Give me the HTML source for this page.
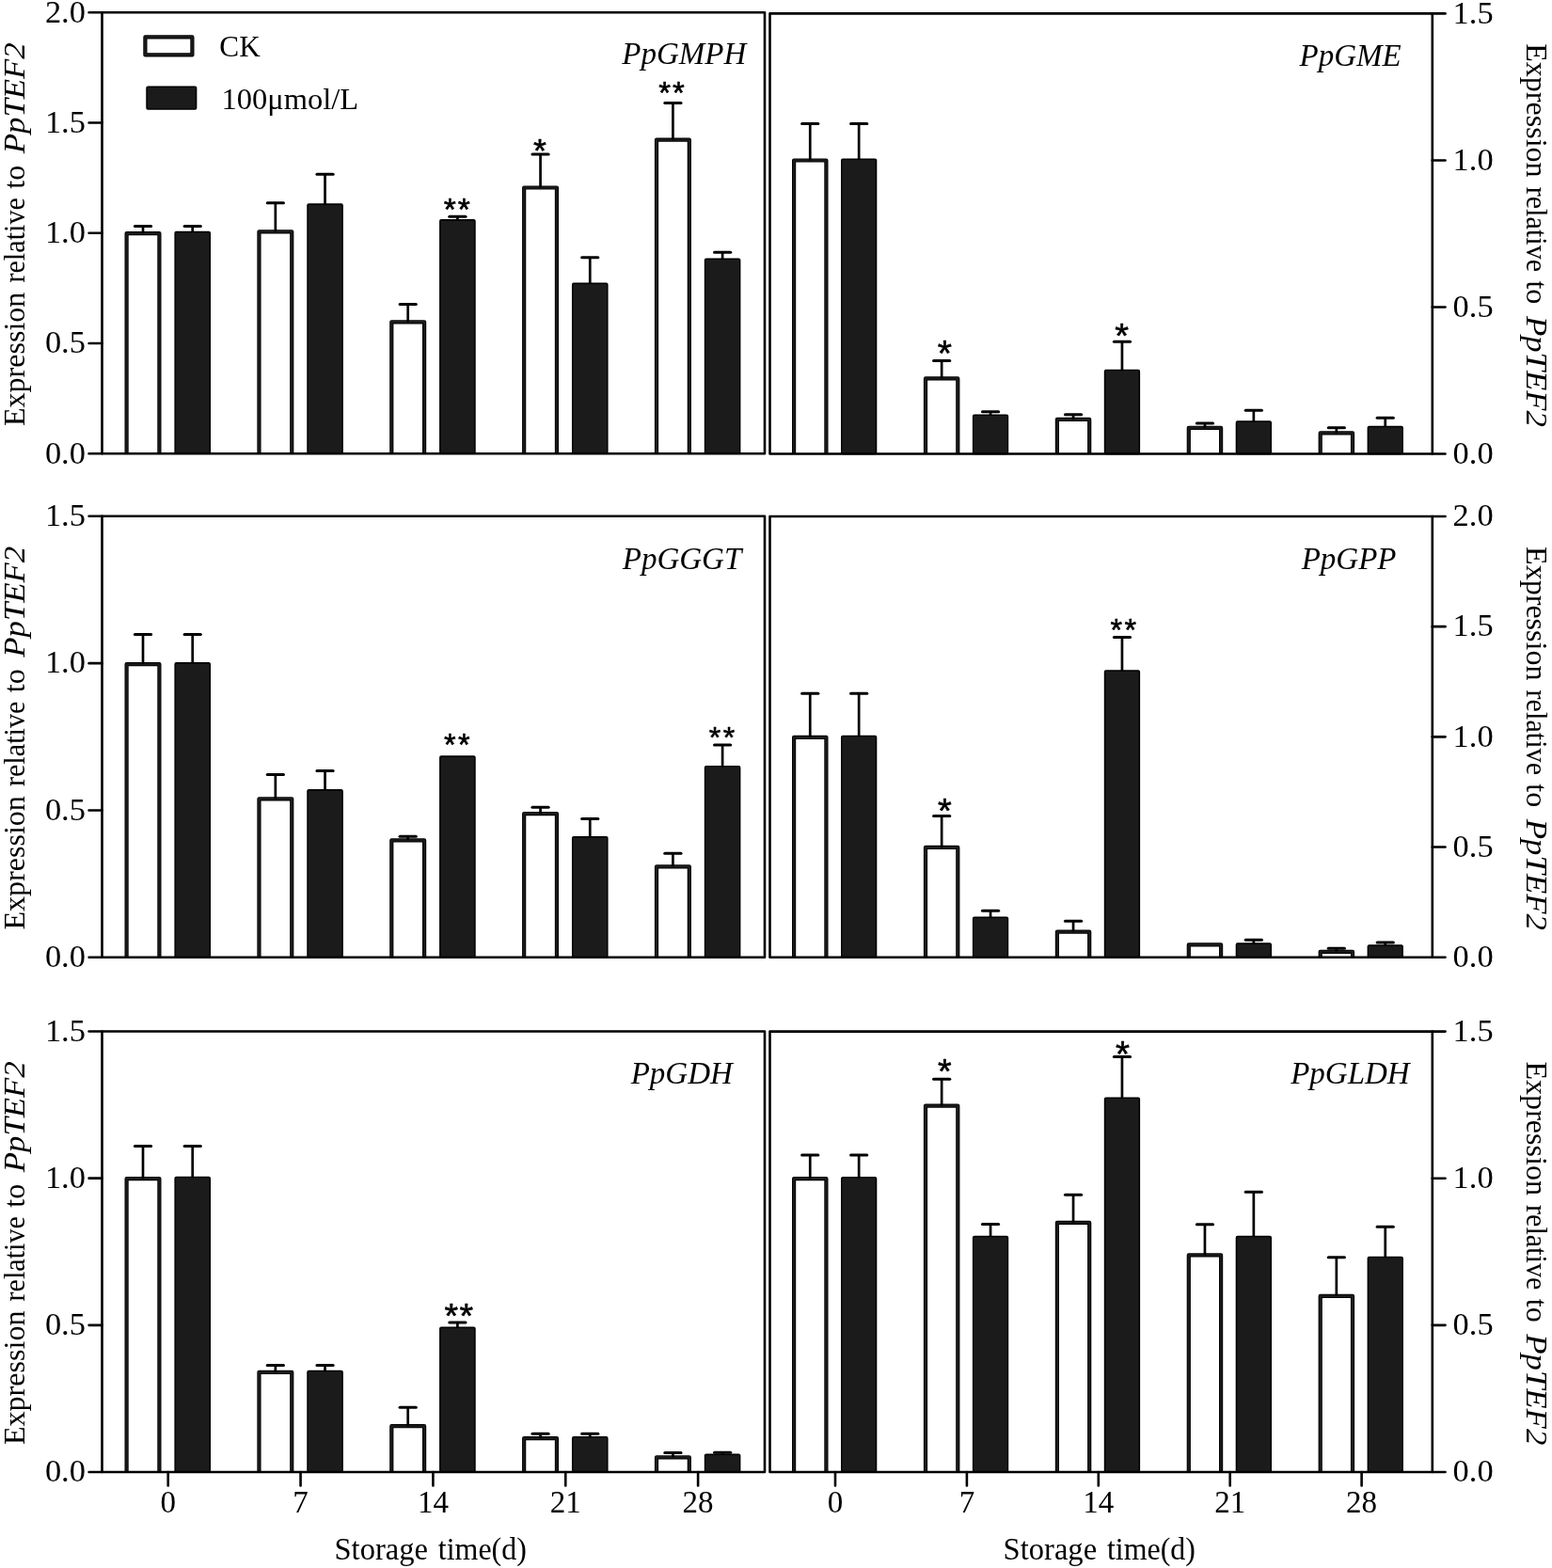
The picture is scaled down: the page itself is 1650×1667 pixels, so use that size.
<!DOCTYPE html>
<html><head><meta charset="utf-8"><title>Expression relative to PpTEF2</title>
<style>html,body{margin:0;padding:0;background:#fff;} svg{display:block;}</style></head>
<body><svg width="1650" height="1667" viewBox="0 0 1650 1667">
<rect width="1650" height="1667" fill="#fff"/>
<path d="M134.6 482.3 V248.1 H169.4 V482.3" fill="#fff" stroke="#000" stroke-width="4.2" stroke-linejoin="round"/>
<path d="M134.6 482.3 V248.1 H169.4 V482.3" fill="none" stroke="#1b1b1b" stroke-width="2.4000000000000004" stroke-linejoin="round"/>
<line x1="152" y1="248" x2="152" y2="240.5" stroke="#000" stroke-width="2.7"/>
<line x1="143.4" y1="240.5" x2="160.6" y2="240.5" stroke="#000" stroke-width="3.0" stroke-linecap="round"/>
<rect x="186.15" y="246.55" width="37.1" height="235.75" rx="1.2" fill="#1b1b1b" stroke="#000" stroke-width="1.5"/>
<line x1="204.7" y1="247" x2="204.7" y2="240.5" stroke="#000" stroke-width="2.7"/>
<line x1="196.1" y1="240.5" x2="213.3" y2="240.5" stroke="#000" stroke-width="3.0" stroke-linecap="round"/>
<path d="M275.45 482.3 V246.3 H310.25 V482.3" fill="#fff" stroke="#000" stroke-width="4.2" stroke-linejoin="round"/>
<path d="M275.45 482.3 V246.3 H310.25 V482.3" fill="none" stroke="#1b1b1b" stroke-width="2.4000000000000004" stroke-linejoin="round"/>
<line x1="292.85" y1="246.2" x2="292.85" y2="215.7" stroke="#000" stroke-width="2.7"/>
<line x1="284.25" y1="215.7" x2="301.45" y2="215.7" stroke="#000" stroke-width="3.0" stroke-linecap="round"/>
<rect x="327" y="216.95" width="37.1" height="265.35" rx="1.2" fill="#1b1b1b" stroke="#000" stroke-width="1.5"/>
<line x1="345.55" y1="217.4" x2="345.55" y2="185.3" stroke="#000" stroke-width="2.7"/>
<line x1="336.95" y1="185.3" x2="354.15" y2="185.3" stroke="#000" stroke-width="3.0" stroke-linecap="round"/>
<path d="M416.3 482.3 V342.3 H451.1 V482.3" fill="#fff" stroke="#000" stroke-width="4.2" stroke-linejoin="round"/>
<path d="M416.3 482.3 V342.3 H451.1 V482.3" fill="none" stroke="#1b1b1b" stroke-width="2.4000000000000004" stroke-linejoin="round"/>
<line x1="433.7" y1="342.2" x2="433.7" y2="323.4" stroke="#000" stroke-width="2.7"/>
<line x1="425.1" y1="323.4" x2="442.3" y2="323.4" stroke="#000" stroke-width="3.0" stroke-linecap="round"/>
<rect x="467.85" y="233.85" width="37.1" height="248.45" rx="1.2" fill="#1b1b1b" stroke="#000" stroke-width="1.5"/>
<line x1="486.4" y1="234.3" x2="486.4" y2="230.2" stroke="#000" stroke-width="2.7"/>
<line x1="477.8" y1="230.2" x2="495" y2="230.2" stroke="#000" stroke-width="3.0" stroke-linecap="round"/>
<path d="M557.15 482.3 V199.5 H591.95 V482.3" fill="#fff" stroke="#000" stroke-width="4.2" stroke-linejoin="round"/>
<path d="M557.15 482.3 V199.5 H591.95 V482.3" fill="none" stroke="#1b1b1b" stroke-width="2.4000000000000004" stroke-linejoin="round"/>
<line x1="574.55" y1="199.4" x2="574.55" y2="163.9" stroke="#000" stroke-width="2.7"/>
<line x1="565.95" y1="163.9" x2="583.15" y2="163.9" stroke="#000" stroke-width="3.0" stroke-linecap="round"/>
<rect x="608.7" y="301.25" width="37.1" height="181.05" rx="1.2" fill="#1b1b1b" stroke="#000" stroke-width="1.5"/>
<line x1="627.25" y1="301.7" x2="627.25" y2="273.8" stroke="#000" stroke-width="2.7"/>
<line x1="618.65" y1="273.8" x2="635.85" y2="273.8" stroke="#000" stroke-width="3.0" stroke-linecap="round"/>
<path d="M698 482.3 V148.6 H732.8 V482.3" fill="#fff" stroke="#000" stroke-width="4.2" stroke-linejoin="round"/>
<path d="M698 482.3 V148.6 H732.8 V482.3" fill="none" stroke="#1b1b1b" stroke-width="2.4000000000000004" stroke-linejoin="round"/>
<line x1="715.4" y1="148.5" x2="715.4" y2="109.4" stroke="#000" stroke-width="2.7"/>
<line x1="706.8" y1="109.4" x2="724" y2="109.4" stroke="#000" stroke-width="3.0" stroke-linecap="round"/>
<rect x="749.55" y="275.35" width="37.1" height="206.95" rx="1.2" fill="#1b1b1b" stroke="#000" stroke-width="1.5"/>
<line x1="768.1" y1="275.8" x2="768.1" y2="268.3" stroke="#000" stroke-width="2.7"/>
<line x1="759.5" y1="268.3" x2="776.7" y2="268.3" stroke="#000" stroke-width="3.0" stroke-linecap="round"/>
<text x="478.4" y="234.24" font-family="'Liberation Sans', Arial, sans-serif" font-size="33.63" stroke="#000" stroke-width="0.6" stroke-linejoin="round" text-anchor="middle">*</text>
<text x="493.4" y="234.24" font-family="'Liberation Sans', Arial, sans-serif" font-size="33.63" stroke="#000" stroke-width="0.6" stroke-linejoin="round" text-anchor="middle">*</text>
<text x="574" y="171.62" font-family="'Liberation Sans', Arial, sans-serif" font-size="35.74" stroke="#000" stroke-width="0.6" stroke-linejoin="round" text-anchor="middle">*</text>
<text x="706.58" y="110.41" font-family="'Liberation Sans', Arial, sans-serif" font-size="32.73" stroke="#000" stroke-width="0.6" stroke-linejoin="round" text-anchor="middle">*</text>
<text x="721.42" y="110.41" font-family="'Liberation Sans', Arial, sans-serif" font-size="32.73" stroke="#000" stroke-width="0.6" stroke-linejoin="round" text-anchor="middle">*</text>
<path d="M108.5 13.3 H813 V482.3 H108.5 Z" fill="none" stroke="#000" stroke-width="2.6" stroke-linejoin="round"/>
<line x1="94.6" y1="482.3" x2="108.5" y2="482.3" stroke="#000" stroke-width="2.6" stroke-linecap="round"/>
<text x="90.9" y="492.6" font-family="'Liberation Serif', 'Times New Roman', serif" font-size="34.4" text-anchor="end">0.0</text>
<line x1="94.6" y1="365.05" x2="108.5" y2="365.05" stroke="#000" stroke-width="2.6" stroke-linecap="round"/>
<text x="90.9" y="375.35" font-family="'Liberation Serif', 'Times New Roman', serif" font-size="34.4" text-anchor="end">0.5</text>
<line x1="94.6" y1="247.8" x2="108.5" y2="247.8" stroke="#000" stroke-width="2.6" stroke-linecap="round"/>
<text x="90.9" y="258.1" font-family="'Liberation Serif', 'Times New Roman', serif" font-size="34.4" text-anchor="end">1.0</text>
<line x1="94.6" y1="130.55" x2="108.5" y2="130.55" stroke="#000" stroke-width="2.6" stroke-linecap="round"/>
<text x="90.9" y="140.85" font-family="'Liberation Serif', 'Times New Roman', serif" font-size="34.4" text-anchor="end">1.5</text>
<line x1="94.6" y1="13.3" x2="108.5" y2="13.3" stroke="#000" stroke-width="2.6" stroke-linecap="round"/>
<text x="90.9" y="23.6" font-family="'Liberation Serif', 'Times New Roman', serif" font-size="34.4" text-anchor="end">2.0</text>
<text x="661.3" y="68.4" font-family="'Liberation Serif', 'Times New Roman', serif" font-size="33" font-style="italic">PpGMPH</text>
<text transform="translate(25.8 0) rotate(-90)" font-family="'Liberation Serif', 'Times New Roman', serif" font-size="32.6"><tspan x="-453.1" y="0" textLength="142.5" lengthAdjust="spacingAndGlyphs">Expression</tspan> <tspan x="-300.6" y="0" textLength="90.5" lengthAdjust="spacingAndGlyphs">relative</tspan> <tspan x="-200.8" y="0" textLength="25" lengthAdjust="spacingAndGlyphs">to</tspan> <tspan x="-163.3" y="0" font-style="italic" textLength="118" lengthAdjust="spacingAndGlyphs">PpTEF2</tspan></text>
<path d="M844.1 482.5 V170.5 H878.4 V482.5" fill="#fff" stroke="#000" stroke-width="4.2" stroke-linejoin="round"/>
<path d="M844.1 482.5 V170.5 H878.4 V482.5" fill="none" stroke="#1b1b1b" stroke-width="2.4000000000000004" stroke-linejoin="round"/>
<line x1="861.25" y1="170.4" x2="861.25" y2="131.6" stroke="#000" stroke-width="2.7"/>
<line x1="852.65" y1="131.6" x2="869.85" y2="131.6" stroke="#000" stroke-width="3.0" stroke-linecap="round"/>
<rect x="894.75" y="169.15" width="36.8" height="313.35" rx="1.2" fill="#1b1b1b" stroke="#000" stroke-width="1.5"/>
<line x1="913.15" y1="169.6" x2="913.15" y2="131.6" stroke="#000" stroke-width="2.7"/>
<line x1="904.55" y1="131.6" x2="921.75" y2="131.6" stroke="#000" stroke-width="3.0" stroke-linecap="round"/>
<path d="M984 482.5 V402.4 H1018.3 V482.5" fill="#fff" stroke="#000" stroke-width="4.2" stroke-linejoin="round"/>
<path d="M984 482.5 V402.4 H1018.3 V482.5" fill="none" stroke="#1b1b1b" stroke-width="2.4000000000000004" stroke-linejoin="round"/>
<line x1="1001.15" y1="402.3" x2="1001.15" y2="383.5" stroke="#000" stroke-width="2.7"/>
<line x1="992.55" y1="383.5" x2="1009.75" y2="383.5" stroke="#000" stroke-width="3.0" stroke-linecap="round"/>
<rect x="1034.65" y="441.25" width="36.8" height="41.25" rx="1.2" fill="#1b1b1b" stroke="#000" stroke-width="1.5"/>
<line x1="1053.05" y1="441.7" x2="1053.05" y2="437.8" stroke="#000" stroke-width="2.7"/>
<line x1="1044.45" y1="437.8" x2="1061.65" y2="437.8" stroke="#000" stroke-width="3.0" stroke-linecap="round"/>
<path d="M1123.9 482.5 V445.9 H1158.2 V482.5" fill="#fff" stroke="#000" stroke-width="4.2" stroke-linejoin="round"/>
<path d="M1123.9 482.5 V445.9 H1158.2 V482.5" fill="none" stroke="#1b1b1b" stroke-width="2.4000000000000004" stroke-linejoin="round"/>
<line x1="1141.05" y1="445.8" x2="1141.05" y2="440.8" stroke="#000" stroke-width="2.7"/>
<line x1="1132.45" y1="440.8" x2="1149.65" y2="440.8" stroke="#000" stroke-width="3.0" stroke-linecap="round"/>
<rect x="1174.55" y="393.45" width="36.8" height="89.05" rx="1.2" fill="#1b1b1b" stroke="#000" stroke-width="1.5"/>
<line x1="1192.95" y1="393.9" x2="1192.95" y2="363.2" stroke="#000" stroke-width="2.7"/>
<line x1="1184.35" y1="363.2" x2="1201.55" y2="363.2" stroke="#000" stroke-width="3.0" stroke-linecap="round"/>
<path d="M1263.8 482.5 V454.8 H1298.1 V482.5" fill="#fff" stroke="#000" stroke-width="4.2" stroke-linejoin="round"/>
<path d="M1263.8 482.5 V454.8 H1298.1 V482.5" fill="none" stroke="#1b1b1b" stroke-width="2.4000000000000004" stroke-linejoin="round"/>
<line x1="1280.95" y1="454.7" x2="1280.95" y2="449.9" stroke="#000" stroke-width="2.7"/>
<line x1="1272.35" y1="449.9" x2="1289.55" y2="449.9" stroke="#000" stroke-width="3.0" stroke-linecap="round"/>
<rect x="1314.45" y="447.95" width="36.8" height="34.55" rx="1.2" fill="#1b1b1b" stroke="#000" stroke-width="1.5"/>
<line x1="1332.85" y1="448.4" x2="1332.85" y2="436.3" stroke="#000" stroke-width="2.7"/>
<line x1="1324.25" y1="436.3" x2="1341.45" y2="436.3" stroke="#000" stroke-width="3.0" stroke-linecap="round"/>
<path d="M1403.7 482.5 V460.4 H1438 V482.5" fill="#fff" stroke="#000" stroke-width="4.2" stroke-linejoin="round"/>
<path d="M1403.7 482.5 V460.4 H1438 V482.5" fill="none" stroke="#1b1b1b" stroke-width="2.4000000000000004" stroke-linejoin="round"/>
<line x1="1420.85" y1="460.3" x2="1420.85" y2="454.7" stroke="#000" stroke-width="2.7"/>
<line x1="1412.25" y1="454.7" x2="1429.45" y2="454.7" stroke="#000" stroke-width="3.0" stroke-linecap="round"/>
<rect x="1454.35" y="453.45" width="36.8" height="29.05" rx="1.2" fill="#1b1b1b" stroke="#000" stroke-width="1.5"/>
<line x1="1472.75" y1="453.9" x2="1472.75" y2="444.3" stroke="#000" stroke-width="2.7"/>
<line x1="1464.15" y1="444.3" x2="1481.35" y2="444.3" stroke="#000" stroke-width="3.0" stroke-linecap="round"/>
<text x="1004.3" y="389.13" font-family="'Liberation Sans', Arial, sans-serif" font-size="39.04" stroke="#000" stroke-width="0.6" stroke-linejoin="round" text-anchor="middle">*</text>
<text x="1192.5" y="369.89" font-family="'Liberation Sans', Arial, sans-serif" font-size="37.84" stroke="#000" stroke-width="0.6" stroke-linejoin="round" text-anchor="middle">*</text>
<path d="M818.5 14.4 H1522.8 V482.5 H818.5 Z" fill="none" stroke="#000" stroke-width="2.6" stroke-linejoin="round"/>
<line x1="1522.8" y1="482.5" x2="1536.5" y2="482.5" stroke="#000" stroke-width="2.6" stroke-linecap="round"/>
<text x="1544.6" y="492.8" font-family="'Liberation Serif', 'Times New Roman', serif" font-size="34.4">0.0</text>
<line x1="1522.8" y1="326.47" x2="1536.5" y2="326.47" stroke="#000" stroke-width="2.6" stroke-linecap="round"/>
<text x="1544.6" y="336.77" font-family="'Liberation Serif', 'Times New Roman', serif" font-size="34.4">0.5</text>
<line x1="1522.8" y1="170.43" x2="1536.5" y2="170.43" stroke="#000" stroke-width="2.6" stroke-linecap="round"/>
<text x="1544.6" y="180.73" font-family="'Liberation Serif', 'Times New Roman', serif" font-size="34.4">1.0</text>
<line x1="1522.8" y1="14.4" x2="1536.5" y2="14.4" stroke="#000" stroke-width="2.6" stroke-linecap="round"/>
<text x="1544.6" y="24.7" font-family="'Liberation Serif', 'Times New Roman', serif" font-size="34.4">1.5</text>
<text x="1381.5" y="70" font-family="'Liberation Serif', 'Times New Roman', serif" font-size="33" font-style="italic">PpGME</text>
<text transform="translate(1623.2 0) rotate(90)" font-family="'Liberation Serif', 'Times New Roman', serif" font-size="32.6"><tspan x="46.15" y="0" textLength="142.5" lengthAdjust="spacingAndGlyphs">Expression</tspan> <tspan x="198.65" y="0" textLength="90.5" lengthAdjust="spacingAndGlyphs">relative</tspan> <tspan x="298.45" y="0" textLength="25" lengthAdjust="spacingAndGlyphs">to</tspan> <tspan x="335.95" y="0" font-style="italic" textLength="118" lengthAdjust="spacingAndGlyphs">PpTEF2</tspan></text>
<path d="M134.6 1017.8 V706.1 H169.4 V1017.8" fill="#fff" stroke="#000" stroke-width="4.2" stroke-linejoin="round"/>
<path d="M134.6 1017.8 V706.1 H169.4 V1017.8" fill="none" stroke="#1b1b1b" stroke-width="2.4000000000000004" stroke-linejoin="round"/>
<line x1="152" y1="706" x2="152" y2="674.5" stroke="#000" stroke-width="2.7"/>
<line x1="143.4" y1="674.5" x2="160.6" y2="674.5" stroke="#000" stroke-width="3.0" stroke-linecap="round"/>
<rect x="186.15" y="704.75" width="37.1" height="313.05" rx="1.2" fill="#1b1b1b" stroke="#000" stroke-width="1.5"/>
<line x1="204.7" y1="705.2" x2="204.7" y2="674.5" stroke="#000" stroke-width="2.7"/>
<line x1="196.1" y1="674.5" x2="213.3" y2="674.5" stroke="#000" stroke-width="3.0" stroke-linecap="round"/>
<path d="M275.45 1017.8 V849.3 H310.25 V1017.8" fill="#fff" stroke="#000" stroke-width="4.2" stroke-linejoin="round"/>
<path d="M275.45 1017.8 V849.3 H310.25 V1017.8" fill="none" stroke="#1b1b1b" stroke-width="2.4000000000000004" stroke-linejoin="round"/>
<line x1="292.85" y1="849.2" x2="292.85" y2="823.4" stroke="#000" stroke-width="2.7"/>
<line x1="284.25" y1="823.4" x2="301.45" y2="823.4" stroke="#000" stroke-width="3.0" stroke-linecap="round"/>
<rect x="327" y="839.75" width="37.1" height="178.05" rx="1.2" fill="#1b1b1b" stroke="#000" stroke-width="1.5"/>
<line x1="345.55" y1="840.2" x2="345.55" y2="819.5" stroke="#000" stroke-width="2.7"/>
<line x1="336.95" y1="819.5" x2="354.15" y2="819.5" stroke="#000" stroke-width="3.0" stroke-linecap="round"/>
<path d="M416.3 1017.8 V893.4 H451.1 V1017.8" fill="#fff" stroke="#000" stroke-width="4.2" stroke-linejoin="round"/>
<path d="M416.3 1017.8 V893.4 H451.1 V1017.8" fill="none" stroke="#1b1b1b" stroke-width="2.4000000000000004" stroke-linejoin="round"/>
<line x1="433.7" y1="893.3" x2="433.7" y2="889.3" stroke="#000" stroke-width="2.7"/>
<line x1="425.1" y1="889.3" x2="442.3" y2="889.3" stroke="#000" stroke-width="3.0" stroke-linecap="round"/>
<rect x="467.85" y="804.05" width="37.1" height="213.75" rx="1.2" fill="#1b1b1b" stroke="#000" stroke-width="1.5"/>
<path d="M557.15 1017.8 V865.1 H591.95 V1017.8" fill="#fff" stroke="#000" stroke-width="4.2" stroke-linejoin="round"/>
<path d="M557.15 1017.8 V865.1 H591.95 V1017.8" fill="none" stroke="#1b1b1b" stroke-width="2.4000000000000004" stroke-linejoin="round"/>
<line x1="574.55" y1="865" x2="574.55" y2="858.3" stroke="#000" stroke-width="2.7"/>
<line x1="565.95" y1="858.3" x2="583.15" y2="858.3" stroke="#000" stroke-width="3.0" stroke-linecap="round"/>
<rect x="608.7" y="889.65" width="37.1" height="128.15" rx="1.2" fill="#1b1b1b" stroke="#000" stroke-width="1.5"/>
<line x1="627.25" y1="890.1" x2="627.25" y2="870.5" stroke="#000" stroke-width="2.7"/>
<line x1="618.65" y1="870.5" x2="635.85" y2="870.5" stroke="#000" stroke-width="3.0" stroke-linecap="round"/>
<path d="M698 1017.8 V921.3 H732.8 V1017.8" fill="#fff" stroke="#000" stroke-width="4.2" stroke-linejoin="round"/>
<path d="M698 1017.8 V921.3 H732.8 V1017.8" fill="none" stroke="#1b1b1b" stroke-width="2.4000000000000004" stroke-linejoin="round"/>
<line x1="715.4" y1="921.2" x2="715.4" y2="907.3" stroke="#000" stroke-width="2.7"/>
<line x1="706.8" y1="907.3" x2="724" y2="907.3" stroke="#000" stroke-width="3.0" stroke-linecap="round"/>
<rect x="749.55" y="814.75" width="37.1" height="203.05" rx="1.2" fill="#1b1b1b" stroke="#000" stroke-width="1.5"/>
<line x1="768.1" y1="815.2" x2="768.1" y2="792" stroke="#000" stroke-width="2.7"/>
<line x1="759.5" y1="792" x2="776.7" y2="792" stroke="#000" stroke-width="3.0" stroke-linecap="round"/>
<text x="478.3" y="802.8" font-family="'Liberation Sans', Arial, sans-serif" font-size="32.43" stroke="#000" stroke-width="0.6" stroke-linejoin="round" text-anchor="middle">*</text>
<text x="493.4" y="802.8" font-family="'Liberation Sans', Arial, sans-serif" font-size="32.43" stroke="#000" stroke-width="0.6" stroke-linejoin="round" text-anchor="middle">*</text>
<text x="759.95" y="795.19" font-family="'Liberation Sans', Arial, sans-serif" font-size="32.13" stroke="#000" stroke-width="0.6" stroke-linejoin="round" text-anchor="middle">*</text>
<text x="775.05" y="795.19" font-family="'Liberation Sans', Arial, sans-serif" font-size="32.13" stroke="#000" stroke-width="0.6" stroke-linejoin="round" text-anchor="middle">*</text>
<path d="M108.5 548.8 H813 V1017.8 H108.5 Z" fill="none" stroke="#000" stroke-width="2.6" stroke-linejoin="round"/>
<line x1="94.6" y1="1017.8" x2="108.5" y2="1017.8" stroke="#000" stroke-width="2.6" stroke-linecap="round"/>
<text x="90.9" y="1028.1" font-family="'Liberation Serif', 'Times New Roman', serif" font-size="34.4" text-anchor="end">0.0</text>
<line x1="94.6" y1="861.47" x2="108.5" y2="861.47" stroke="#000" stroke-width="2.6" stroke-linecap="round"/>
<text x="90.9" y="871.77" font-family="'Liberation Serif', 'Times New Roman', serif" font-size="34.4" text-anchor="end">0.5</text>
<line x1="94.6" y1="705.13" x2="108.5" y2="705.13" stroke="#000" stroke-width="2.6" stroke-linecap="round"/>
<text x="90.9" y="715.43" font-family="'Liberation Serif', 'Times New Roman', serif" font-size="34.4" text-anchor="end">1.0</text>
<line x1="94.6" y1="548.8" x2="108.5" y2="548.8" stroke="#000" stroke-width="2.6" stroke-linecap="round"/>
<text x="90.9" y="559.1" font-family="'Liberation Serif', 'Times New Roman', serif" font-size="34.4" text-anchor="end">1.5</text>
<text x="661.8" y="604.6" font-family="'Liberation Serif', 'Times New Roman', serif" font-size="33" font-style="italic">PpGGGT</text>
<text transform="translate(25.8 0) rotate(-90)" font-family="'Liberation Serif', 'Times New Roman', serif" font-size="32.6"><tspan x="-988.6" y="0" textLength="142.5" lengthAdjust="spacingAndGlyphs">Expression</tspan> <tspan x="-836.1" y="0" textLength="90.5" lengthAdjust="spacingAndGlyphs">relative</tspan> <tspan x="-736.3" y="0" textLength="25" lengthAdjust="spacingAndGlyphs">to</tspan> <tspan x="-698.8" y="0" font-style="italic" textLength="118" lengthAdjust="spacingAndGlyphs">PpTEF2</tspan></text>
<path d="M844.1 1017.7 V783.8 H878.4 V1017.7" fill="#fff" stroke="#000" stroke-width="4.2" stroke-linejoin="round"/>
<path d="M844.1 1017.7 V783.8 H878.4 V1017.7" fill="none" stroke="#1b1b1b" stroke-width="2.4000000000000004" stroke-linejoin="round"/>
<line x1="861.25" y1="783.7" x2="861.25" y2="737.3" stroke="#000" stroke-width="2.7"/>
<line x1="852.65" y1="737.3" x2="869.85" y2="737.3" stroke="#000" stroke-width="3.0" stroke-linecap="round"/>
<rect x="894.75" y="782.45" width="36.8" height="235.25" rx="1.2" fill="#1b1b1b" stroke="#000" stroke-width="1.5"/>
<line x1="913.15" y1="782.9" x2="913.15" y2="737.3" stroke="#000" stroke-width="2.7"/>
<line x1="904.55" y1="737.3" x2="921.75" y2="737.3" stroke="#000" stroke-width="3.0" stroke-linecap="round"/>
<path d="M984 1017.7 V900.9 H1018.3 V1017.7" fill="#fff" stroke="#000" stroke-width="4.2" stroke-linejoin="round"/>
<path d="M984 1017.7 V900.9 H1018.3 V1017.7" fill="none" stroke="#1b1b1b" stroke-width="2.4000000000000004" stroke-linejoin="round"/>
<line x1="1001.15" y1="900.8" x2="1001.15" y2="867.6" stroke="#000" stroke-width="2.7"/>
<line x1="992.55" y1="867.6" x2="1009.75" y2="867.6" stroke="#000" stroke-width="3.0" stroke-linecap="round"/>
<rect x="1034.65" y="975.35" width="36.8" height="42.35" rx="1.2" fill="#1b1b1b" stroke="#000" stroke-width="1.5"/>
<line x1="1053.05" y1="975.8" x2="1053.05" y2="968.3" stroke="#000" stroke-width="2.7"/>
<line x1="1044.45" y1="968.3" x2="1061.65" y2="968.3" stroke="#000" stroke-width="3.0" stroke-linecap="round"/>
<path d="M1123.9 1017.7 V990.6 H1158.2 V1017.7" fill="#fff" stroke="#000" stroke-width="4.2" stroke-linejoin="round"/>
<path d="M1123.9 1017.7 V990.6 H1158.2 V1017.7" fill="none" stroke="#1b1b1b" stroke-width="2.4000000000000004" stroke-linejoin="round"/>
<line x1="1141.05" y1="990.5" x2="1141.05" y2="979.3" stroke="#000" stroke-width="2.7"/>
<line x1="1132.45" y1="979.3" x2="1149.65" y2="979.3" stroke="#000" stroke-width="3.0" stroke-linecap="round"/>
<rect x="1174.55" y="712.95" width="36.8" height="304.75" rx="1.2" fill="#1b1b1b" stroke="#000" stroke-width="1.5"/>
<line x1="1192.95" y1="713.4" x2="1192.95" y2="677.4" stroke="#000" stroke-width="2.7"/>
<line x1="1184.35" y1="677.4" x2="1201.55" y2="677.4" stroke="#000" stroke-width="3.0" stroke-linecap="round"/>
<path d="M1263.8 1017.7 V1004.4 H1298.1 V1017.7" fill="#fff" stroke="#000" stroke-width="4.2" stroke-linejoin="round"/>
<path d="M1263.8 1017.7 V1004.4 H1298.1 V1017.7" fill="none" stroke="#1b1b1b" stroke-width="2.4000000000000004" stroke-linejoin="round"/>
<rect x="1314.45" y="1003.05" width="36.8" height="14.65" rx="1.2" fill="#1b1b1b" stroke="#000" stroke-width="1.5"/>
<line x1="1332.85" y1="1003.5" x2="1332.85" y2="999.3" stroke="#000" stroke-width="2.7"/>
<line x1="1324.25" y1="999.3" x2="1341.45" y2="999.3" stroke="#000" stroke-width="3.0" stroke-linecap="round"/>
<path d="M1403.7 1017.7 V1011.8 H1438 V1017.7" fill="#fff" stroke="#000" stroke-width="4.2" stroke-linejoin="round"/>
<path d="M1403.7 1017.7 V1011.8 H1438 V1017.7" fill="none" stroke="#1b1b1b" stroke-width="2.4000000000000004" stroke-linejoin="round"/>
<line x1="1420.85" y1="1011.7" x2="1420.85" y2="1008.3" stroke="#000" stroke-width="2.7"/>
<line x1="1412.25" y1="1008.3" x2="1429.45" y2="1008.3" stroke="#000" stroke-width="3.0" stroke-linecap="round"/>
<rect x="1454.35" y="1005.05" width="36.8" height="12.65" rx="1.2" fill="#1b1b1b" stroke="#000" stroke-width="1.5"/>
<line x1="1472.75" y1="1005.5" x2="1472.75" y2="1002" stroke="#000" stroke-width="2.7"/>
<line x1="1464.15" y1="1002" x2="1481.35" y2="1002" stroke="#000" stroke-width="3.0" stroke-linecap="round"/>
<text x="1004.4" y="875.19" font-family="'Liberation Sans', Arial, sans-serif" font-size="37.84" stroke="#000" stroke-width="0.6" stroke-linejoin="round" text-anchor="middle">*</text>
<text x="1186.7" y="680.9" font-family="'Liberation Sans', Arial, sans-serif" font-size="32.43" stroke="#000" stroke-width="0.6" stroke-linejoin="round" text-anchor="middle">*</text>
<text x="1201.7" y="680.9" font-family="'Liberation Sans', Arial, sans-serif" font-size="32.43" stroke="#000" stroke-width="0.6" stroke-linejoin="round" text-anchor="middle">*</text>
<path d="M818.5 549 H1522.8 V1017.7 H818.5 Z" fill="none" stroke="#000" stroke-width="2.6" stroke-linejoin="round"/>
<line x1="1522.8" y1="1017.7" x2="1536.5" y2="1017.7" stroke="#000" stroke-width="2.6" stroke-linecap="round"/>
<text x="1544.6" y="1028" font-family="'Liberation Serif', 'Times New Roman', serif" font-size="34.4">0.0</text>
<line x1="1522.8" y1="900.53" x2="1536.5" y2="900.53" stroke="#000" stroke-width="2.6" stroke-linecap="round"/>
<text x="1544.6" y="910.83" font-family="'Liberation Serif', 'Times New Roman', serif" font-size="34.4">0.5</text>
<line x1="1522.8" y1="783.35" x2="1536.5" y2="783.35" stroke="#000" stroke-width="2.6" stroke-linecap="round"/>
<text x="1544.6" y="793.65" font-family="'Liberation Serif', 'Times New Roman', serif" font-size="34.4">1.0</text>
<line x1="1522.8" y1="666.17" x2="1536.5" y2="666.17" stroke="#000" stroke-width="2.6" stroke-linecap="round"/>
<text x="1544.6" y="676.47" font-family="'Liberation Serif', 'Times New Roman', serif" font-size="34.4">1.5</text>
<line x1="1522.8" y1="549" x2="1536.5" y2="549" stroke="#000" stroke-width="2.6" stroke-linecap="round"/>
<text x="1544.6" y="559.3" font-family="'Liberation Serif', 'Times New Roman', serif" font-size="34.4">2.0</text>
<text x="1383.7" y="604.5" font-family="'Liberation Serif', 'Times New Roman', serif" font-size="33" font-style="italic">PpGPP</text>
<text transform="translate(1623.2 0) rotate(90)" font-family="'Liberation Serif', 'Times New Roman', serif" font-size="32.6"><tspan x="581.05" y="0" textLength="142.5" lengthAdjust="spacingAndGlyphs">Expression</tspan> <tspan x="733.55" y="0" textLength="90.5" lengthAdjust="spacingAndGlyphs">relative</tspan> <tspan x="833.35" y="0" textLength="25" lengthAdjust="spacingAndGlyphs">to</tspan> <tspan x="870.85" y="0" font-style="italic" textLength="118" lengthAdjust="spacingAndGlyphs">PpTEF2</tspan></text>
<path d="M134.6 1565 V1253.1 H169.4 V1565" fill="#fff" stroke="#000" stroke-width="4.2" stroke-linejoin="round"/>
<path d="M134.6 1565 V1253.1 H169.4 V1565" fill="none" stroke="#1b1b1b" stroke-width="2.4000000000000004" stroke-linejoin="round"/>
<line x1="152" y1="1253" x2="152" y2="1218.5" stroke="#000" stroke-width="2.7"/>
<line x1="143.4" y1="1218.5" x2="160.6" y2="1218.5" stroke="#000" stroke-width="3.0" stroke-linecap="round"/>
<rect x="186.15" y="1251.45" width="37.1" height="313.55" rx="1.2" fill="#1b1b1b" stroke="#000" stroke-width="1.5"/>
<line x1="204.7" y1="1251.9" x2="204.7" y2="1218.5" stroke="#000" stroke-width="2.7"/>
<line x1="196.1" y1="1218.5" x2="213.3" y2="1218.5" stroke="#000" stroke-width="3.0" stroke-linecap="round"/>
<path d="M275.45 1565 V1458.8 H310.25 V1565" fill="#fff" stroke="#000" stroke-width="4.2" stroke-linejoin="round"/>
<path d="M275.45 1565 V1458.8 H310.25 V1565" fill="none" stroke="#1b1b1b" stroke-width="2.4000000000000004" stroke-linejoin="round"/>
<line x1="292.85" y1="1458.7" x2="292.85" y2="1451.5" stroke="#000" stroke-width="2.7"/>
<line x1="284.25" y1="1451.5" x2="301.45" y2="1451.5" stroke="#000" stroke-width="3.0" stroke-linecap="round"/>
<rect x="327" y="1457.45" width="37.1" height="107.55" rx="1.2" fill="#1b1b1b" stroke="#000" stroke-width="1.5"/>
<line x1="345.55" y1="1457.9" x2="345.55" y2="1451.5" stroke="#000" stroke-width="2.7"/>
<line x1="336.95" y1="1451.5" x2="354.15" y2="1451.5" stroke="#000" stroke-width="3.0" stroke-linecap="round"/>
<path d="M416.3 1565 V1516.2 H451.1 V1565" fill="#fff" stroke="#000" stroke-width="4.2" stroke-linejoin="round"/>
<path d="M416.3 1565 V1516.2 H451.1 V1565" fill="none" stroke="#1b1b1b" stroke-width="2.4000000000000004" stroke-linejoin="round"/>
<line x1="433.7" y1="1516.1" x2="433.7" y2="1496.3" stroke="#000" stroke-width="2.7"/>
<line x1="425.1" y1="1496.3" x2="442.3" y2="1496.3" stroke="#000" stroke-width="3.0" stroke-linecap="round"/>
<rect x="467.85" y="1411.25" width="37.1" height="153.75" rx="1.2" fill="#1b1b1b" stroke="#000" stroke-width="1.5"/>
<line x1="486.4" y1="1411.7" x2="486.4" y2="1406" stroke="#000" stroke-width="2.7"/>
<line x1="477.8" y1="1406" x2="495" y2="1406" stroke="#000" stroke-width="3.0" stroke-linecap="round"/>
<path d="M557.15 1565 V1529.1 H591.95 V1565" fill="#fff" stroke="#000" stroke-width="4.2" stroke-linejoin="round"/>
<path d="M557.15 1565 V1529.1 H591.95 V1565" fill="none" stroke="#1b1b1b" stroke-width="2.4000000000000004" stroke-linejoin="round"/>
<line x1="574.55" y1="1529" x2="574.55" y2="1524.3" stroke="#000" stroke-width="2.7"/>
<line x1="565.95" y1="1524.3" x2="583.15" y2="1524.3" stroke="#000" stroke-width="3.0" stroke-linecap="round"/>
<rect x="608.7" y="1527.75" width="37.1" height="37.25" rx="1.2" fill="#1b1b1b" stroke="#000" stroke-width="1.5"/>
<line x1="627.25" y1="1528.2" x2="627.25" y2="1524.3" stroke="#000" stroke-width="2.7"/>
<line x1="618.65" y1="1524.3" x2="635.85" y2="1524.3" stroke="#000" stroke-width="3.0" stroke-linecap="round"/>
<path d="M698 1565 V1549.3 H732.8 V1565" fill="#fff" stroke="#000" stroke-width="4.2" stroke-linejoin="round"/>
<path d="M698 1565 V1549.3 H732.8 V1565" fill="none" stroke="#1b1b1b" stroke-width="2.4000000000000004" stroke-linejoin="round"/>
<line x1="715.4" y1="1549.2" x2="715.4" y2="1544.5" stroke="#000" stroke-width="2.7"/>
<line x1="706.8" y1="1544.5" x2="724" y2="1544.5" stroke="#000" stroke-width="3.0" stroke-linecap="round"/>
<rect x="749.55" y="1546.15" width="37.1" height="18.85" rx="1.2" fill="#1b1b1b" stroke="#000" stroke-width="1.5"/>
<line x1="768.1" y1="1546.6" x2="768.1" y2="1544.3" stroke="#000" stroke-width="2.7"/>
<line x1="759.5" y1="1544.3" x2="776.7" y2="1544.3" stroke="#000" stroke-width="3.0" stroke-linecap="round"/>
<text x="479.7" y="1412.38" font-family="'Liberation Sans', Arial, sans-serif" font-size="37.54" stroke="#000" stroke-width="0.6" stroke-linejoin="round" text-anchor="middle">*</text>
<text x="495.7" y="1412.38" font-family="'Liberation Sans', Arial, sans-serif" font-size="37.54" stroke="#000" stroke-width="0.6" stroke-linejoin="round" text-anchor="middle">*</text>
<path d="M108.5 1096.5 H813 V1565 H108.5 Z" fill="none" stroke="#000" stroke-width="2.6" stroke-linejoin="round"/>
<line x1="94.6" y1="1565" x2="108.5" y2="1565" stroke="#000" stroke-width="2.6" stroke-linecap="round"/>
<text x="90.9" y="1575.3" font-family="'Liberation Serif', 'Times New Roman', serif" font-size="34.4" text-anchor="end">0.0</text>
<line x1="94.6" y1="1408.83" x2="108.5" y2="1408.83" stroke="#000" stroke-width="2.6" stroke-linecap="round"/>
<text x="90.9" y="1419.13" font-family="'Liberation Serif', 'Times New Roman', serif" font-size="34.4" text-anchor="end">0.5</text>
<line x1="94.6" y1="1252.67" x2="108.5" y2="1252.67" stroke="#000" stroke-width="2.6" stroke-linecap="round"/>
<text x="90.9" y="1262.97" font-family="'Liberation Serif', 'Times New Roman', serif" font-size="34.4" text-anchor="end">1.0</text>
<line x1="94.6" y1="1096.5" x2="108.5" y2="1096.5" stroke="#000" stroke-width="2.6" stroke-linecap="round"/>
<text x="90.9" y="1106.8" font-family="'Liberation Serif', 'Times New Roman', serif" font-size="34.4" text-anchor="end">1.5</text>
<line x1="178.7" y1="1565" x2="178.7" y2="1579.5" stroke="#000" stroke-width="2.6" stroke-linecap="round"/>
<text x="178.7" y="1608.3" font-family="'Liberation Serif', 'Times New Roman', serif" font-size="33" text-anchor="middle">0</text>
<line x1="319.55" y1="1565" x2="319.55" y2="1579.5" stroke="#000" stroke-width="2.6" stroke-linecap="round"/>
<text x="319.55" y="1608.3" font-family="'Liberation Serif', 'Times New Roman', serif" font-size="33" text-anchor="middle">7</text>
<line x1="460.4" y1="1565" x2="460.4" y2="1579.5" stroke="#000" stroke-width="2.6" stroke-linecap="round"/>
<text x="460.4" y="1608.3" font-family="'Liberation Serif', 'Times New Roman', serif" font-size="33" text-anchor="middle">14</text>
<line x1="601.25" y1="1565" x2="601.25" y2="1579.5" stroke="#000" stroke-width="2.6" stroke-linecap="round"/>
<text x="601.25" y="1608.3" font-family="'Liberation Serif', 'Times New Roman', serif" font-size="33" text-anchor="middle">21</text>
<line x1="742.1" y1="1565" x2="742.1" y2="1579.5" stroke="#000" stroke-width="2.6" stroke-linecap="round"/>
<text x="742.1" y="1608.3" font-family="'Liberation Serif', 'Times New Roman', serif" font-size="33" text-anchor="middle">28</text>
<text x="670.7" y="1152.1" font-family="'Liberation Serif', 'Times New Roman', serif" font-size="33" font-style="italic">PpGDH</text>
<text transform="translate(25.8 0) rotate(-90)" font-family="'Liberation Serif', 'Times New Roman', serif" font-size="32.6"><tspan x="-1536.05" y="0" textLength="142.5" lengthAdjust="spacingAndGlyphs">Expression</tspan> <tspan x="-1383.55" y="0" textLength="90.5" lengthAdjust="spacingAndGlyphs">relative</tspan> <tspan x="-1283.75" y="0" textLength="25" lengthAdjust="spacingAndGlyphs">to</tspan> <tspan x="-1246.25" y="0" font-style="italic" textLength="118" lengthAdjust="spacingAndGlyphs">PpTEF2</tspan></text>
<path d="M844.1 1565 V1253.1 H878.4 V1565" fill="#fff" stroke="#000" stroke-width="4.2" stroke-linejoin="round"/>
<path d="M844.1 1565 V1253.1 H878.4 V1565" fill="none" stroke="#1b1b1b" stroke-width="2.4000000000000004" stroke-linejoin="round"/>
<line x1="861.25" y1="1253" x2="861.25" y2="1227.9" stroke="#000" stroke-width="2.7"/>
<line x1="852.65" y1="1227.9" x2="869.85" y2="1227.9" stroke="#000" stroke-width="3.0" stroke-linecap="round"/>
<rect x="894.75" y="1251.75" width="36.8" height="313.25" rx="1.2" fill="#1b1b1b" stroke="#000" stroke-width="1.5"/>
<line x1="913.15" y1="1252.2" x2="913.15" y2="1227.9" stroke="#000" stroke-width="2.7"/>
<line x1="904.55" y1="1227.9" x2="921.75" y2="1227.9" stroke="#000" stroke-width="3.0" stroke-linecap="round"/>
<path d="M984 1565 V1175.6 H1018.3 V1565" fill="#fff" stroke="#000" stroke-width="4.2" stroke-linejoin="round"/>
<path d="M984 1565 V1175.6 H1018.3 V1565" fill="none" stroke="#1b1b1b" stroke-width="2.4000000000000004" stroke-linejoin="round"/>
<line x1="1001.15" y1="1175.5" x2="1001.15" y2="1147.3" stroke="#000" stroke-width="2.7"/>
<line x1="992.55" y1="1147.3" x2="1009.75" y2="1147.3" stroke="#000" stroke-width="3.0" stroke-linecap="round"/>
<rect x="1034.65" y="1314.55" width="36.8" height="250.45" rx="1.2" fill="#1b1b1b" stroke="#000" stroke-width="1.5"/>
<line x1="1053.05" y1="1315" x2="1053.05" y2="1301.6" stroke="#000" stroke-width="2.7"/>
<line x1="1044.45" y1="1301.6" x2="1061.65" y2="1301.6" stroke="#000" stroke-width="3.0" stroke-linecap="round"/>
<path d="M1123.9 1565 V1299.9 H1158.2 V1565" fill="#fff" stroke="#000" stroke-width="4.2" stroke-linejoin="round"/>
<path d="M1123.9 1565 V1299.9 H1158.2 V1565" fill="none" stroke="#1b1b1b" stroke-width="2.4000000000000004" stroke-linejoin="round"/>
<line x1="1141.05" y1="1299.8" x2="1141.05" y2="1270.2" stroke="#000" stroke-width="2.7"/>
<line x1="1132.45" y1="1270.2" x2="1149.65" y2="1270.2" stroke="#000" stroke-width="3.0" stroke-linecap="round"/>
<rect x="1174.55" y="1167.35" width="36.8" height="397.65" rx="1.2" fill="#1b1b1b" stroke="#000" stroke-width="1.5"/>
<line x1="1192.95" y1="1167.8" x2="1192.95" y2="1123.6" stroke="#000" stroke-width="2.7"/>
<line x1="1184.35" y1="1123.6" x2="1201.55" y2="1123.6" stroke="#000" stroke-width="3.0" stroke-linecap="round"/>
<path d="M1263.8 1565 V1334.4 H1298.1 V1565" fill="#fff" stroke="#000" stroke-width="4.2" stroke-linejoin="round"/>
<path d="M1263.8 1565 V1334.4 H1298.1 V1565" fill="none" stroke="#1b1b1b" stroke-width="2.4000000000000004" stroke-linejoin="round"/>
<line x1="1280.95" y1="1334.3" x2="1280.95" y2="1301.7" stroke="#000" stroke-width="2.7"/>
<line x1="1272.35" y1="1301.7" x2="1289.55" y2="1301.7" stroke="#000" stroke-width="3.0" stroke-linecap="round"/>
<rect x="1314.45" y="1314.45" width="36.8" height="250.55" rx="1.2" fill="#1b1b1b" stroke="#000" stroke-width="1.5"/>
<line x1="1332.85" y1="1314.9" x2="1332.85" y2="1267.3" stroke="#000" stroke-width="2.7"/>
<line x1="1324.25" y1="1267.3" x2="1341.45" y2="1267.3" stroke="#000" stroke-width="3.0" stroke-linecap="round"/>
<path d="M1403.7 1565 V1377.8 H1438 V1565" fill="#fff" stroke="#000" stroke-width="4.2" stroke-linejoin="round"/>
<path d="M1403.7 1565 V1377.8 H1438 V1565" fill="none" stroke="#1b1b1b" stroke-width="2.4000000000000004" stroke-linejoin="round"/>
<line x1="1420.85" y1="1377.7" x2="1420.85" y2="1336.7" stroke="#000" stroke-width="2.7"/>
<line x1="1412.25" y1="1336.7" x2="1429.45" y2="1336.7" stroke="#000" stroke-width="3.0" stroke-linecap="round"/>
<rect x="1454.35" y="1336.55" width="36.8" height="228.45" rx="1.2" fill="#1b1b1b" stroke="#000" stroke-width="1.5"/>
<line x1="1472.75" y1="1337" x2="1472.75" y2="1304.3" stroke="#000" stroke-width="2.7"/>
<line x1="1464.15" y1="1304.3" x2="1481.35" y2="1304.3" stroke="#000" stroke-width="3.0" stroke-linecap="round"/>
<text x="1004.4" y="1151.98" font-family="'Liberation Sans', Arial, sans-serif" font-size="37.54" stroke="#000" stroke-width="0.6" stroke-linejoin="round" text-anchor="middle">*</text>
<text x="1193.6" y="1133.81" font-family="'Liberation Sans', Arial, sans-serif" font-size="38.44" stroke="#000" stroke-width="0.6" stroke-linejoin="round" text-anchor="middle">*</text>
<path d="M818.5 1096.6 H1522.8 V1565 H818.5 Z" fill="none" stroke="#000" stroke-width="2.6" stroke-linejoin="round"/>
<line x1="1522.8" y1="1565" x2="1536.5" y2="1565" stroke="#000" stroke-width="2.6" stroke-linecap="round"/>
<text x="1544.6" y="1575.3" font-family="'Liberation Serif', 'Times New Roman', serif" font-size="34.4">0.0</text>
<line x1="1522.8" y1="1408.87" x2="1536.5" y2="1408.87" stroke="#000" stroke-width="2.6" stroke-linecap="round"/>
<text x="1544.6" y="1419.17" font-family="'Liberation Serif', 'Times New Roman', serif" font-size="34.4">0.5</text>
<line x1="1522.8" y1="1252.73" x2="1536.5" y2="1252.73" stroke="#000" stroke-width="2.6" stroke-linecap="round"/>
<text x="1544.6" y="1263.03" font-family="'Liberation Serif', 'Times New Roman', serif" font-size="34.4">1.0</text>
<line x1="1522.8" y1="1096.6" x2="1536.5" y2="1096.6" stroke="#000" stroke-width="2.6" stroke-linecap="round"/>
<text x="1544.6" y="1106.9" font-family="'Liberation Serif', 'Times New Roman', serif" font-size="34.4">1.5</text>
<line x1="888" y1="1565" x2="888" y2="1579.5" stroke="#000" stroke-width="2.6" stroke-linecap="round"/>
<text x="888" y="1608.3" font-family="'Liberation Serif', 'Times New Roman', serif" font-size="33" text-anchor="middle">0</text>
<line x1="1027.9" y1="1565" x2="1027.9" y2="1579.5" stroke="#000" stroke-width="2.6" stroke-linecap="round"/>
<text x="1027.9" y="1608.3" font-family="'Liberation Serif', 'Times New Roman', serif" font-size="33" text-anchor="middle">7</text>
<line x1="1167.8" y1="1565" x2="1167.8" y2="1579.5" stroke="#000" stroke-width="2.6" stroke-linecap="round"/>
<text x="1167.8" y="1608.3" font-family="'Liberation Serif', 'Times New Roman', serif" font-size="33" text-anchor="middle">14</text>
<line x1="1307.7" y1="1565" x2="1307.7" y2="1579.5" stroke="#000" stroke-width="2.6" stroke-linecap="round"/>
<text x="1307.7" y="1608.3" font-family="'Liberation Serif', 'Times New Roman', serif" font-size="33" text-anchor="middle">21</text>
<line x1="1447.6" y1="1565" x2="1447.6" y2="1579.5" stroke="#000" stroke-width="2.6" stroke-linecap="round"/>
<text x="1447.6" y="1608.3" font-family="'Liberation Serif', 'Times New Roman', serif" font-size="33" text-anchor="middle">28</text>
<text x="1372.2" y="1152.1" font-family="'Liberation Serif', 'Times New Roman', serif" font-size="33" font-style="italic">PpGLDH</text>
<text transform="translate(1623.2 0) rotate(90)" font-family="'Liberation Serif', 'Times New Roman', serif" font-size="32.6"><tspan x="1128.5" y="0" textLength="142.5" lengthAdjust="spacingAndGlyphs">Expression</tspan> <tspan x="1281" y="0" textLength="90.5" lengthAdjust="spacingAndGlyphs">relative</tspan> <tspan x="1380.8" y="0" textLength="25" lengthAdjust="spacingAndGlyphs">to</tspan> <tspan x="1418.3" y="0" font-style="italic" textLength="118" lengthAdjust="spacingAndGlyphs">PpTEF2</tspan></text>
<rect x="154.4" y="39.4" width="50" height="19" fill="#fff" stroke="#000" stroke-width="4.2" stroke-linejoin="round"/>
<rect x="154.4" y="39.4" width="50" height="19" fill="none" stroke="#1b1b1b" stroke-width="2.4" stroke-linejoin="round"/>
<rect x="156" y="92.2" width="52.6" height="23.8" rx="1.2" fill="#1b1b1b" stroke="#000" stroke-width="1.5"/>
<text x="233.3" y="59.7" font-family="'Liberation Serif', 'Times New Roman', serif" font-size="32.5" textLength="43.4" lengthAdjust="spacingAndGlyphs">CK</text>
<text x="235.5" y="116.4" font-family="'Liberation Serif', 'Times New Roman', serif" font-size="32.5">100μmol/L</text>
<text y="1658.0" font-family="'Liberation Serif', 'Times New Roman', serif" font-size="32.7"><tspan x="355.5" textLength="99.5" lengthAdjust="spacingAndGlyphs">Storage</tspan> <tspan x="465.8" textLength="94" lengthAdjust="spacingAndGlyphs">time(d)</tspan></text>
<text y="1658.0" font-family="'Liberation Serif', 'Times New Roman', serif" font-size="32.7"><tspan x="1066.6" textLength="99.5" lengthAdjust="spacingAndGlyphs">Storage</tspan> <tspan x="1176.9" textLength="94" lengthAdjust="spacingAndGlyphs">time(d)</tspan></text>
</svg></body></html>
